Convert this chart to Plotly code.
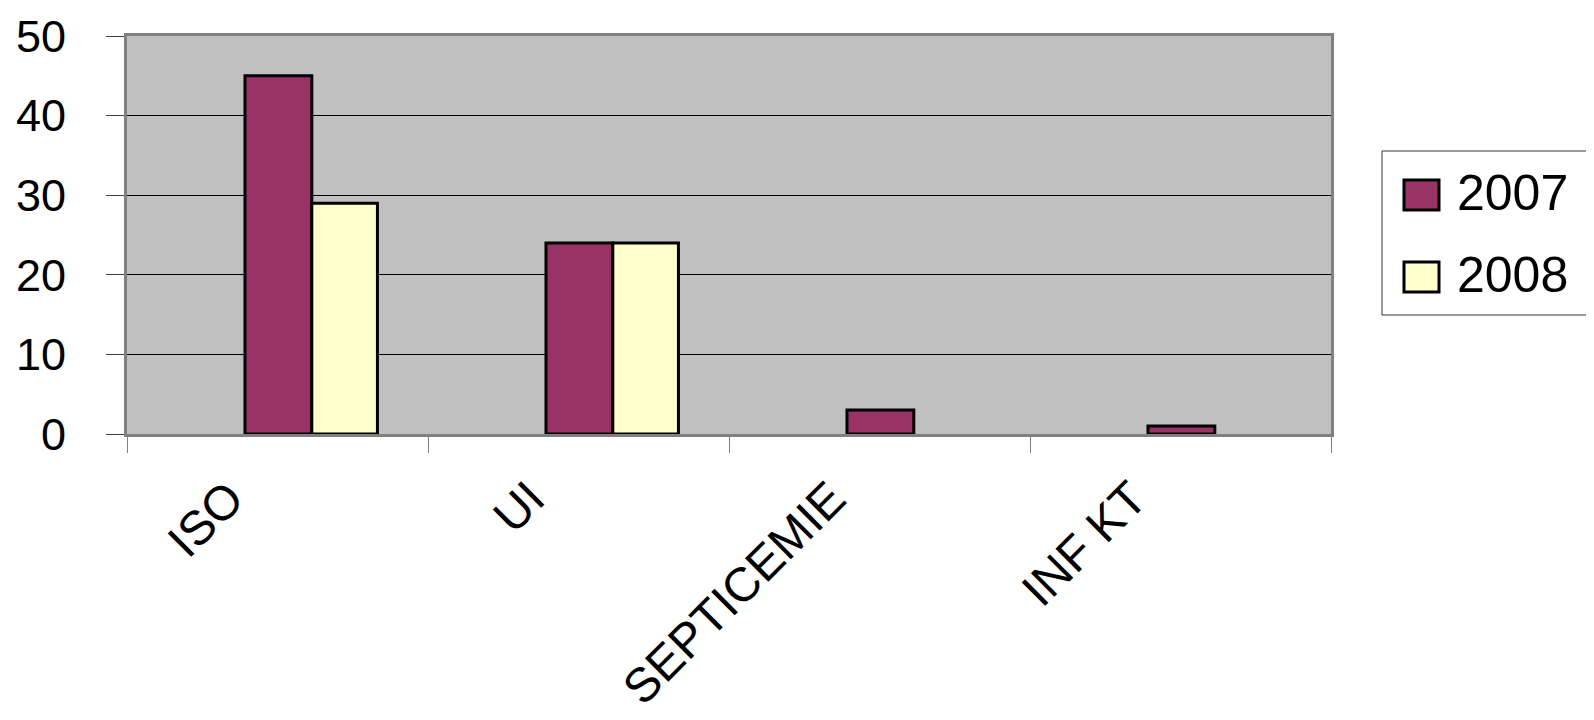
import plotly.graph_objects as go

categories = ["ISO", "UI", "SEPTICEMIE", "INF KT"]
series_names = ["2007", "2008"]
values_2007 = [45, 24, 3, 1]
values_2008 = [29, 24, 0, 0]
series_colors = ["#993366", "#FFFFCC"]
y_ticks = [0, 10, 20, 30, 40, 50]

FONT = "Arial, Liberation Sans, sans-serif"

# page offset (default body margin) compensation
OFF = 8
W, H = 1594 - OFF, 720 - OFF
PL, PR, PT, PB = 127, 1331, 36, 434  # plot area in screen px


def line_widths(vals):
    return [3 if v else 0 for v in vals]


fig = go.Figure()
fig.add_trace(go.Bar(
    x=categories, y=values_2007, name=series_names[0],
    marker=dict(color=series_colors[0],
                line=dict(color="black", width=line_widths(values_2007))),
    offset=-0.108, width=0.222, showlegend=False,
))
fig.add_trace(go.Bar(
    x=categories, y=values_2008, name=series_names[1],
    marker=dict(color=series_colors[1],
                line=dict(color="black", width=line_widths(values_2008))),
    offset=0.114, width=0.218, showlegend=False,
))


def px_x(px):
    return (px - PL) / (PR - PL)


def px_y(py):
    return (PB - py) / (PB - PT)


shapes = [dict(type="rect", xref="paper", yref="paper",
               x0=px_x(1382), x1=px_x(1610), y0=px_y(315), y1=px_y(151),
               line=dict(color="#333333", width=1), fillcolor="white", layer="above")]
annotations = []
for i, (name, col) in enumerate(zip(series_names, series_colors)):
    cy = 195 + i * 82
    shapes.append(dict(type="rect", xref="paper", yref="paper",
                       x0=px_x(1404), x1=px_x(1439), y0=px_y(cy + 15), y1=px_y(cy - 15),
                       line=dict(color="black", width=3), fillcolor=col, layer="above"))
    annotations.append(dict(xref="paper", yref="paper", x=px_x(1455), y=px_y(cy - 2),
                            xanchor="left", yanchor="middle", showarrow=False,
                            text=name, font=dict(size=50, family=FONT, color="black")))

fig.update_layout(
    width=W, height=H,
    margin=dict(l=PL - OFF, r=1594 - PR, t=PT - OFF, b=720 - PB, autoexpand=False),
    paper_bgcolor="white",
    plot_bgcolor="#C0C0C0",
    barmode="overlay",
    font=dict(family=FONT, color="black"),
    showlegend=False,
    shapes=shapes,
    annotations=annotations,
)
fig.update_xaxes(
    type="category",
    tickson="boundaries",
    ticks="outside", ticklen=16, tickcolor="#808080", tickwidth=1,
    tickangle=-45,
    tickfont=dict(size=48, family=FONT, color="black"),
    showline=True, linecolor="#808080", linewidth=3, mirror=True,
    showgrid=False, zeroline=False,
    ticklabelstandoff=14, ticklabelshift=-48,
)
fig.update_yaxes(
    range=[0, 50], tickvals=y_ticks,
    ticks="outside", ticklen=18, tickcolor="#404040", tickwidth=1,
    tickfont=dict(size=45, family=FONT, color="black"),
    showline=True, linecolor="#808080", linewidth=3, mirror=True,
    showgrid=True, gridcolor="black", gridwidth=1,
    zeroline=False,
    ticklabelstandoff=31,
)

fig.write_html("out.html")
